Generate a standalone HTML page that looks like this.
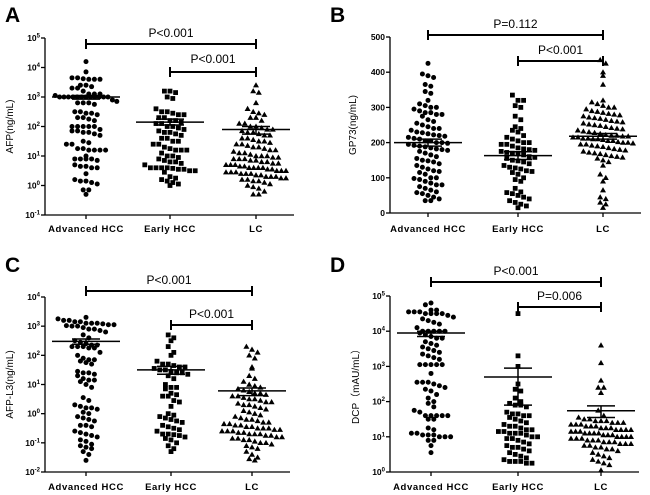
<!DOCTYPE html>
<html><head><meta charset="utf-8"><style>
body{margin:0;background:#fff}
svg{display:block;font-family:"Liberation Sans",Arial,sans-serif}
</style></head><body>
<svg id="chart" width="650" height="495" viewBox="0 0 650 495"></svg>
<script>
// Panel A (log10 AFP)
const aAdv=[4.2,3.85,3.65,3.65,3.6,3.6,3.6,3.62,3.4,3.4,3.35,3.3,3.3,3.2,3.1,3.1,3.1,3.05,3,3,3,3,3,3,3,3,3,3,3,3,2.9,2.85,2.8,2.8,2.8,2.75,2.5,2.5,2.45,2.45,2.4,2.3,2.3,2.25,2.2,2,2,2,2,2,1.9,1.85,1.85,1.8,1.8,1.75,1.7,1.5,1.45,1.4,1.4,1.25,1.2,1.2,1.2,1.2,1.25,1,0.9,0.9,0.9,0.9,0.85,0.7,0.65,0.65,0.6,0.6,0.4,0.2,0.15,0.15,0.1,0.05,-0.15,-0.15,-0.3];
const aEarly=[3.2,3.2,3.15,3,2.95,2.6,2.5,2.5,2.45,2.4,2.4,2.3,2.3,2.2,2.2,2.15,2.1,2.1,2,2,1.95,1.9,1.85,1.8,1.8,1.75,1.7,1.6,1.6,1.5,1.5,1.4,1.4,1.3,1.25,1.2,1.2,1.2,1.1,1,1,0.95,0.9,0.85,0.8,0.8,0.75,0.7,0.6,0.6,0.6,0.6,0.58,0.55,0.55,0.5,0.5,0.45,0.3,0.25,0.2,0.15,0.1,0.05,0];
const aLC=[3.4,3.2,3.15,2.8,2.6,2.5,2.45,2.4,2.3,2.3,2.2,2.1,2.1,2,2,1.95,1.9,1.9,1.85,1.8,1.8,1.75,1.7,1.7,1.6,1.6,1.55,1.5,1.5,1.45,1.4,1.4,1.35,1.3,1.3,1.25,1.2,1.2,1.15,1.1,1.1,1.05,1,1,1,0.95,0.95,0.9,0.9,0.9,0.85,0.85,0.8,0.8,0.75,0.75,0.7,0.7,0.7,0.65,0.65,0.6,0.6,0.6,0.6,0.55,0.55,0.5,0.5,0.5,0.45,0.45,0.45,0.4,0.4,0.4,0.35,0.35,0.3,0.3,0.3,0.25,0.25,0.2,0.2,0.15,0.15,0.1,0.05,0,-0.05,-0.1,-0.2,-0.3,-0.3];
// Panel B (GP73 ng/mL)
const bAdv=[425,395,390,385,365,360,345,340,320,310,305,300,300,295,290,285,285,280,280,275,265,260,255,250,245,240,240,235,230,228,225,222,220,218,215,212,210,205,205,200,200,198,195,192,190,188,185,182,180,178,175,170,165,160,155,150,148,145,140,135,130,125,120,118,115,110,100,100,98,95,90,85,80,80,75,70,65,60,58,55,50,45,40,35,35];
const bEarly=[335,320,320,305,300,275,265,245,240,235,230,220,215,210,205,200,200,195,195,190,185,182,180,178,175,172,170,168,165,160,158,155,150,148,145,140,135,130,128,125,120,118,115,110,100,95,90,70,60,58,55,50,45,40,35,30,25,20,15];
const bLC=[435,425,400,390,365,320,315,310,305,300,300,295,290,288,285,282,280,278,275,272,270,268,265,262,260,258,255,252,250,248,245,242,240,238,235,232,230,228,225,222,220,220,218,218,215,215,212,212,210,210,208,205,205,202,200,200,198,195,195,192,190,188,185,182,180,178,175,172,170,168,165,162,160,158,155,150,145,135,110,100,90,65,45,40,30,25,15];
// Panel C (log10 AFP-L3)
const cAdv=[3.3,3.25,3.2,3.2,3.15,3.15,3.1,3.1,3.1,3.08,3.05,3.05,3.02,3,3,2.95,2.9,2.9,2.85,2.8,2.7,2.6,2.5,2.45,2.4,2.35,2.35,2.3,2.3,2.3,2.25,2.25,2.1,2,1.9,1.85,1.85,1.8,1.75,1.7,1.45,1.4,1.4,1.35,1.3,1.2,1.15,1.15,1.1,1,0.9,0.55,0.45,0.3,0.25,0.2,0.2,0.15,0.05,0,-0.1,-0.15,-0.2,-0.25,-0.4,-0.4,-0.45,-0.6,-0.65,-0.7,-0.75,-0.8,-0.9,-0.95,-1.05,-1.1,-1.15,-1.2,-1.3,-1.4,-1.6];
const cEarly=[2.7,2.6,2.5,2.3,2.1,2,1.8,1.7,1.7,1.65,1.6,1.6,1.55,1.5,1.5,1.45,1.4,1.4,1.35,1.3,1.2,1,0.9,0.9,0.85,0.7,0.65,0.6,0.6,0.45,0.4,0.25,0,-0.05,-0.1,-0.15,-0.2,-0.25,-0.3,-0.4,-0.45,-0.5,-0.55,-0.6,-0.7,-0.7,-0.72,-0.75,-0.8,-0.85,-0.9,-1,-1.1,-1.2,-1.3];
const cLC=[2.3,2.2,2.1,2,1.9,1.6,1.55,1.3,1.2,1.1,1,0.95,0.9,0.85,0.8,0.75,0.7,0.7,0.65,0.6,0.6,0.55,0.5,0.5,0.45,0.4,0.4,0.35,0.3,0.3,0.25,0.2,0.15,0.1,0.05,0,-0.05,-0.1,-0.15,-0.2,-0.2,-0.25,-0.3,-0.3,-0.35,-0.35,-0.4,-0.4,-0.45,-0.45,-0.5,-0.5,-0.5,-0.55,-0.55,-0.6,-0.6,-0.6,-0.65,-0.65,-0.7,-0.7,-0.7,-0.75,-0.75,-0.8,-0.8,-0.85,-0.85,-0.9,-0.9,-0.95,-1,-1,-1.05,-1.1,-1.15,-1.2,-1.3,-1.4,-1.5,-1.55,-1.6];
// Panel D (log10 DCP)
const dAdv=[4.8,4.75,4.6,4.6,4.55,4.55,4.55,4.5,4.5,4.5,4.5,4.45,4.4,4.35,4.3,4.25,4.2,4.1,4,4,4,4,4,3.95,3.9,3.85,3.8,3.8,3.7,3.65,3.6,3.55,3.5,3.45,3.4,3.35,3.3,3.25,3.2,3.05,3.05,3.05,3.05,3.05,2.8,2.55,2.55,2.55,2.5,2.45,2.4,2.35,2.3,2.2,2.1,2,1.95,1.85,1.75,1.7,1.6,1.6,1.6,1.6,1.6,1.5,1.5,1.25,1.2,1.1,1.1,1.05,1.05,1.05,1,1,1,0.9,0.9,0.75,0.55];
const dEarly=[4.5,3.3,3,2.5,2.35,2.3,2.1,2,1.95,1.9,1.9,1.85,1.7,1.65,1.65,1.6,1.6,1.55,1.5,1.45,1.4,1.35,1.3,1.3,1.25,1.2,1.2,1.15,1.15,1.1,1.1,1.1,1.05,1,1,0.95,0.95,0.9,0.85,0.8,0.75,0.7,0.7,0.65,0.6,0.55,0.5,0.45,0.4,0.35,0.3,0.3,0.3,0.25,0.25];
const dLC=[3.6,3.1,2.6,2.4,2.4,2.25,1.75,1.6,1.55,1.5,1.5,1.45,1.45,1.45,1.4,1.4,1.4,1.35,1.35,1.35,1.3,1.3,1.3,1.25,1.25,1.25,1.2,1.2,1.2,1.2,1.15,1.15,1.15,1.1,1.1,1.1,1.1,1.05,1.05,1.05,1,1,1,1,0.95,0.95,0.95,0.9,0.9,0.9,0.85,0.85,0.85,0.8,0.8,0.8,0.75,0.75,0.7,0.7,0.65,0.65,0.6,0.55,0.5,0.45,0.4,0.35,0.3,0.25,0.2,0.05];
// means and SEM (low, high) in axis units
const aMean=[3.0,2.15,1.9], aLo=[2.93,2.05,1.74], aHi=[3.05,2.25,2.0];
const bMean=[200,163,218], bLo=[190,152,210], bHi=[210,174,226];
const cMean=[2.48,1.5,0.78], cLo=[2.38,1.35,0.62], cHi=[2.56,1.62,0.88];
const dMean=[3.95,2.7,1.74], dLo=[3.85,1.9,1.55], dHi=[4.0,2.95,1.88];
const catLabels=["Advanced HCC","Early HCC","LC"];

const NS="http://www.w3.org/2000/svg";
const svg=document.getElementById("chart");
function mk(tag,attrs,parent){const e=document.createElementNS(NS,tag);for(const k in attrs)e.setAttribute(k,attrs[k]);(parent||svg).appendChild(e);return e;}

const panels=[
 {id:"a",letter:"A",lx:5,ly:22,ax:45,yTop:38,yBot:215,min:-1,max:5,log:true,cats:[86,170,256],data:[aAdv,aEarly,aLC],mean:aMean,lo:aLo,hi:aHi,ylab:"AFP(ng/mL)",ylx:9,labY:232,
  br:[{x1:86,x2:256,y:44,t:"P<0.001",ty:37},{x1:170,x2:256,y:72,t:"P<0.001",ty:63}]},
 {id:"b",letter:"B",lx:330,ly:22,ax:390,yTop:37,yBot:213,min:0,max:500,log:false,step:100,cats:[428,518,603],data:[bAdv,bEarly,bLC],mean:bMean,lo:bLo,hi:bHi,ylab:"GP73(ng/mL)",ylx:352,labY:232,
  br:[{x1:428,x2:603,y:35,t:"P=0.112",ty:28},{x1:518,x2:603,y:61,t:"P<0.001",ty:54}]},
 {id:"c",letter:"C",lx:5,ly:272,ax:45,yTop:297,yBot:472,min:-2,max:4,log:true,cats:[86,171,252],data:[cAdv,cEarly,cLC],mean:cMean,lo:cLo,hi:cHi,ylab:"AFP-L3(ng/mL)",ylx:9,labY:490,
  br:[{x1:86,x2:252,y:291,t:"P<0.001",ty:284},{x1:171,x2:252,y:325,t:"P<0.001",ty:318}]},
 {id:"d",letter:"D",lx:330,ly:272,ax:390,yTop:296,yBot:472,min:0,max:5,log:true,cats:[431,518,601],data:[dAdv,dEarly,dLC],mean:dMean,lo:dLo,hi:dHi,ylab:"DCP（mAU/mL）",ylx:355,labY:490,
  br:[{x1:431,x2:601,y:282,t:"P<0.001",ty:275},{x1:518,x2:601,y:307,t:"P=0.006",ty:300}]}
];

panels.forEach(p=>{
 const g=mk("g",{});
 
 
 const Y=v=>p.yBot-(v-p.min)/(p.max-p.min)*(p.yBot-p.yTop);
 const lt=mk("text",{x:p.lx,y:p.ly,"font-size":21,"font-weight":"bold"},g);lt.textContent=p.letter;
 
 
 const axis=mk("g",{stroke:"#000","stroke-width":1.3},g);
 
 
 mk("line",{x1:p.ax,y1:p.yTop,x2:p.ax,y2:p.yBot},axis);
 const xEnd=p.cats[2]+38;
 mk("line",{x1:p.ax,y1:p.yBot,x2:xEnd,y2:p.yBot},axis);
 p.cats.forEach(c=>mk("line",{x1:c,y1:p.yBot,x2:c,y2:p.yBot+4},axis));
 const ticks=[];
 if(p.log){for(let k=p.min;k<=p.max;k++)ticks.push(k);}else{for(let v=p.min;v<=p.max;v+=p.step)ticks.push(v);}
 ticks.forEach(t=>{
  const y=Y(t);
  mk("line",{x1:p.ax-4,y1:y,x2:p.ax,y2:y},axis);
  const tx=mk("text",{x:p.ax-5,y:y+3,"font-size":8.5,"font-weight":"bold","text-anchor":"end"},g);
  
  
  if(p.log){tx.textContent="10";const s=mk("tspan",{dy:-3.5,"font-size":6},tx);s.textContent=String(t);}
  else tx.textContent=String(t);
 });
 const yl=mk("text",{x:0,y:0,"font-size":10,"text-anchor":"middle",transform:`translate(${p.ylx+4},${(p.yTop+p.yBot)/2}) rotate(-90)`},g);
 yl.textContent=p.ylab;
 
 
 p.cats.forEach((c,i)=>{const t=mk("text",{x:c,y:p.labY,"font-size":9.5,"font-weight":"bold","text-anchor":"middle","letter-spacing":0.6},g);t.textContent=catLabels[i];
  
  });
 p.data.forEach((arr,gi)=>{
  const vals=arr.slice().sort((a,b)=>b-a);
  const bins={};
  vals.forEach(v=>{const y=Y(v);const b=Math.round(y/7);(bins[b]=bins[b]||[]).push(y);});
  Object.keys(bins).forEach(b=>{
   const ys=bins[b];const n=ys.length;
   const sp=n>11?Math.max(4.4,60/(n-1)):5.6;
   ys.forEach((y,i)=>{
    const x=p.cats[gi]+(i-(n-1)/2)*sp;
    let m;
    if(gi===0)m=mk("circle",{cx:x,cy:y,r:2.5,fill:"#000"},g);
    else if(gi===1)m=mk("rect",{x:x-2.4,y:y-2.4,width:4.8,height:4.8,fill:"#000"},g);
    else m=mk("polygon",{points:`${x},${y-3} ${x+3},${y+2.2} ${x-3},${y+2.2}`,fill:"#000"},g);
    
    
   });
  });
  const c=p.cats[gi];
  const mg=mk("g",{stroke:"#000","stroke-width":1.5},g);
  
  
  mk("line",{x1:c-34,y1:Y(p.mean[gi]),x2:c+34,y2:Y(p.mean[gi])},mg);
  mk("line",{x1:c,y1:Y(p.lo[gi]),x2:c,y2:Y(p.hi[gi])},mg);
  mk("line",{x1:c-14,y1:Y(p.lo[gi]),x2:c+14,y2:Y(p.lo[gi])},mg);
  mk("line",{x1:c-14,y1:Y(p.hi[gi]),x2:c+14,y2:Y(p.hi[gi])},mg);
 });
 p.br.forEach(b=>{
  const bg=mk("g",{},g);
  
  
  mk("line",{x1:b.x1,y1:b.y,x2:b.x2,y2:b.y,stroke:"#000","stroke-width":2},bg);
  mk("line",{x1:b.x1,y1:b.y-5,x2:b.x1,y2:b.y+5,stroke:"#000","stroke-width":2},bg);
  mk("line",{x1:b.x2,y1:b.y-5,x2:b.x2,y2:b.y+5,stroke:"#000","stroke-width":2},bg);
  const t=mk("text",{x:(b.x1+b.x2)/2,y:b.ty,"font-size":12,"text-anchor":"middle"},bg);t.textContent=b.t;
  
  
 });
});
</script>
</body></html>
